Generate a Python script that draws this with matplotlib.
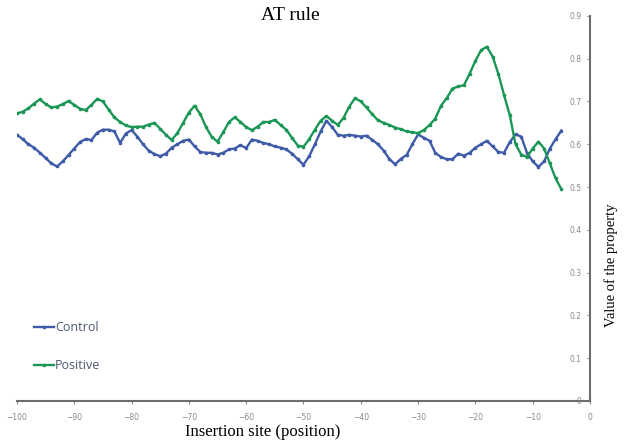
import numpy as np
import matplotlib.pyplot as plt

positions = np.arange(-100, -4)

control = [0.622, 0.612, 0.600, 0.592, 0.580, 0.568, 0.555, 0.548, 0.560, 0.575,
           0.590, 0.605, 0.612, 0.610, 0.627, 0.634, 0.634, 0.630, 0.603, 0.625,
           0.633, 0.618, 0.600, 0.585, 0.577, 0.572, 0.578, 0.592, 0.600, 0.608,
           0.611, 0.595, 0.582, 0.580, 0.580, 0.576, 0.580, 0.588, 0.590, 0.598,
           0.591, 0.611, 0.608, 0.603, 0.600, 0.595, 0.592, 0.588, 0.578, 0.565,
           0.552, 0.572, 0.600, 0.630, 0.655, 0.640, 0.622, 0.620, 0.622, 0.620,
           0.618, 0.620, 0.610, 0.600, 0.585, 0.565, 0.553, 0.566, 0.575, 0.600,
           0.623, 0.615, 0.608, 0.580, 0.570, 0.565, 0.565, 0.578, 0.573, 0.580,
           0.592, 0.600, 0.608, 0.595, 0.582, 0.580, 0.605, 0.623, 0.618, 0.580,
           0.560, 0.547, 0.560, 0.590, 0.612, 0.632]

positive = [0.672, 0.676, 0.684, 0.695, 0.705, 0.694, 0.686, 0.688, 0.694, 0.701,
            0.692, 0.683, 0.680, 0.692, 0.706, 0.700, 0.681, 0.663, 0.652, 0.644,
            0.640, 0.641, 0.641, 0.646, 0.650, 0.636, 0.622, 0.610, 0.626, 0.650,
            0.674, 0.690, 0.670, 0.640, 0.617, 0.606, 0.628, 0.652, 0.663, 0.652,
            0.640, 0.633, 0.641, 0.652, 0.652, 0.657, 0.645, 0.634, 0.615, 0.597,
            0.594, 0.612, 0.634, 0.655, 0.666, 0.655, 0.645, 0.662, 0.688, 0.708,
            0.700, 0.686, 0.670, 0.656, 0.650, 0.645, 0.639, 0.635, 0.630, 0.628,
            0.626, 0.633, 0.645, 0.660, 0.690, 0.708, 0.730, 0.735, 0.738, 0.765,
            0.795, 0.820, 0.828, 0.805, 0.765, 0.715, 0.668, 0.600, 0.576, 0.570,
            0.590, 0.606, 0.590, 0.555, 0.520, 0.495]

x_ticks = np.arange(-100, 1, 10)
y_ticks = np.arange(0, 0.91, 0.1)

fig = plt.figure(figsize=(6.28, 4.42), dpi=100)
ax = fig.add_axes([0.027, 0.093, 0.9125, 0.871])

ax.plot(positions, control, color='#3d5ba6', lw=1.7, marker='o', ms=1.6, label='Control')
ax.plot(positions, positive, color='#1a9655', lw=1.7, marker='o', ms=1.6, label='Positive')

ax.set_xlim(-100, 0)
ax.set_ylim(0, 0.9)
ax.set_xticks(x_ticks)
ax.set_yticks(y_ticks)
ax.set_yticklabels(['0' if v == 0 else '%.1f' % v for v in y_ticks])

# vertical axis sits at x = 0 with its labels pointing inward
ax.spines['left'].set_position(('data', 0))
ax.spines['right'].set_visible(False)
ax.spines['top'].set_visible(False)
for s in ('left', 'bottom'):
    ax.spines[s].set_color('#6e6e6e')
    ax.spines[s].set_linewidth(1.5)
ax.tick_params(axis='both', labelsize=5.5, colors='#8a8a8a', length=2.5, width=0.8)
ax.tick_params(axis='x', pad=6)

fig.text(0.462, 0.966, 'AT rule', family='Liberation Serif', fontsize=14,
         ha='center', va='center')
ax.set_xlabel('Insertion site (position)', family='Liberation Serif', fontsize=12,
              ha='center', va='center')
ax.xaxis.set_label_coords(0.428, -0.08)
ax.yaxis.set_label_position('right')
ax.set_ylabel('Value of the property', family='Liberation Serif', fontsize=10.5,
              ha='center', va='center')
ax.yaxis.set_label_coords(1.037, 0.353)

leg = ax.legend(loc='lower left', bbox_to_anchor=(0.01, 0.045), frameon=False,
                labelspacing=2.0, handlelength=1.6, handletextpad=0.1,
                prop={'family': 'Open Sans', 'size': 9})
for t in leg.get_texts():
    t.set_color('#4a5670')

fig.savefig('out.png', dpi=100)
